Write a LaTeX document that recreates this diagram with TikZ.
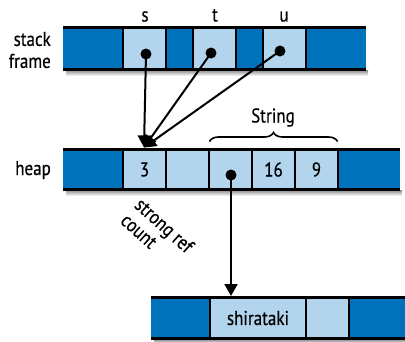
\documentclass[tikz,border=0pt]{standalone}
\usepackage{fontspec}
\setmainfont[FakeStretch=0.85,FakeBold=0.4]{PT Sans}
\usetikzlibrary{decorations.pathreplacing,arrows.meta}
\definecolor{darkcell}{RGB}{0,114,188}
\definecolor{lightcell}{RGB}{178,212,236}
\tikzset{
  cellbox/.style={inner sep=0pt, outer sep=0pt, anchor=north west},
  dk/.style={cellbox, fill=darkcell},
  lt/.style={cellbox, fill=lightcell},
  rowline/.style={line width=2.6pt},
  divline/.style={line width=2pt},
  dot/.style={circle, fill=black, inner sep=0pt, minimum size=11pt},
  ptr/.style={line width=2pt, -{Triangle[length=12pt,width=13pt]}},
  lbl/.style={font=\fontsize{20}{22}\selectfont},
  shadowstrip/.style={top color=black!45, bottom color=white, draw=none}
}
\begin{document}
\begin{tikzpicture}[x=1pt,y=-1pt]
\useasboundingbox (0,0) rectangle (405,341);

% ---------- stack frame row (top 27.5, bottom 69.5)
\shade[shadowstrip] (66,70) rectangle (368,76);
\node[dk, minimum width=60pt, minimum height=42pt] (a1) at (63,27.5) {};
\node[lt, minimum width=43pt, minimum height=42pt] (a2) at (123,27.5) {};
\node[dk, minimum width=27pt, minimum height=42pt] (a3) at (166,27.5) {};
\node[lt, minimum width=43pt, minimum height=42pt] (a4) at (193,27.5) {};
\node[dk, minimum width=27pt, minimum height=42pt] (a5) at (236,27.5) {};
\node[lt, minimum width=43pt, minimum height=42pt] (a6) at (263,27.5) {};
\node[dk, minimum width=60pt, minimum height=42pt] (a7) at (306,27.5) {};
\draw[rowline] (a1.north west) -- (a7.north east);
\draw[rowline] (a1.south west) -- (a7.south east);
\foreach \c in {a1,a2,a3,a4,a5,a6}{\draw[divline] (\c.north east) -- (\c.south east);}

% ---------- heap row (top 149.5, bottom 189.5)
\shade[shadowstrip] (66,190) rectangle (402,196);
\node[dk, minimum width=60pt, minimum height=40pt] (b1) at (63,149.5) {};
\node[lt, minimum width=43pt, minimum height=40pt, lbl] (b2) at (123,149.5) {3};
\node[lt, minimum width=43pt, minimum height=40pt] (b3) at (166,149.5) {};
\node[lt, minimum width=43pt, minimum height=40pt] (b4) at (209,149.5) {};
\node[lt, minimum width=43pt, minimum height=40pt, lbl] (b5) at (252,149.5) {16};
\node[lt, minimum width=43pt, minimum height=40pt, lbl] (b6) at (295,149.5) {9};
\node[dk, minimum width=62pt, minimum height=40pt] (b7) at (338,149.5) {};
\draw[rowline] (b1.north west) -- (b7.north east);
\draw[rowline] (b1.south west) -- (b7.south east);
\foreach \c in {b1,b2,b3,b4,b5,b6}{\draw[divline] (\c.north east) -- (\c.south east);}

% ---------- bottom row (top 297.5, bottom 338.5)
\shade[shadowstrip] (154,339) rectangle (405,345);
\node[dk, minimum width=59pt, minimum height=41pt] (c1) at (151,297.5) {};
\node[lt, minimum width=96pt, minimum height=41pt, lbl] (c2) at (210,297.5) {shirataki};
\node[lt, minimum width=43pt, minimum height=41pt] (c3) at (306,297.5) {};
\node[dk, minimum width=56pt, minimum height=41pt] (c4) at (349,297.5) {};
\draw[rowline] (c1.north west) -- (c4.north east);
\draw[rowline] (c1.south west) -- (c4.south east);
\foreach \c in {c1,c2,c3}{\draw[divline] (\c.north east) -- (\c.south east);}

% ---------- labels
\node[lbl, anchor=east, align=right, inner sep=0pt] (lstack) at (51,50) {stack\\frame};
\node[lbl, anchor=base east, inner sep=0pt] (lheap) at (51,175) {heap};
\node[lbl, anchor=base, inner sep=0pt] (ls) at (145,21.5) {s};
\node[lbl, anchor=base, inner sep=0pt] (lt) at (215,21.5) {t};
\node[lbl, anchor=base, inner sep=0pt] (lu) at (284,21.5) {u};
\node[lbl, anchor=base, inner sep=0pt] (lstring) at (273,122.5) {String};
\draw[line width=1.6pt, decorate, decoration={brace, amplitude=9pt}] (209.5,141.5) -- (337.5,141.5);
\node[lbl, rotate=-42, align=left, anchor=north west, inner sep=0pt, font=\fontsize{20}{21}\selectfont] (lcount) at (143,196) {strong ref\\count};

% ---------- pointers
\coordinate (rc) at (144,147.5);
\coordinate (str) at (231,296);
\node[dot] (ds) at (146,54) {};
\node[dot] (dt) at (211,53) {};
\node[dot] (du) at (280,51) {};
\node[dot] (dh) at (231,175) {};
\draw[ptr] (ds.center) -- (rc);
\draw[ptr] (dt.center) -- (rc);
\draw[ptr] (du.center) -- (rc);
\draw[ptr] (dh.center) -- (str);
\end{tikzpicture}
\end{document}
